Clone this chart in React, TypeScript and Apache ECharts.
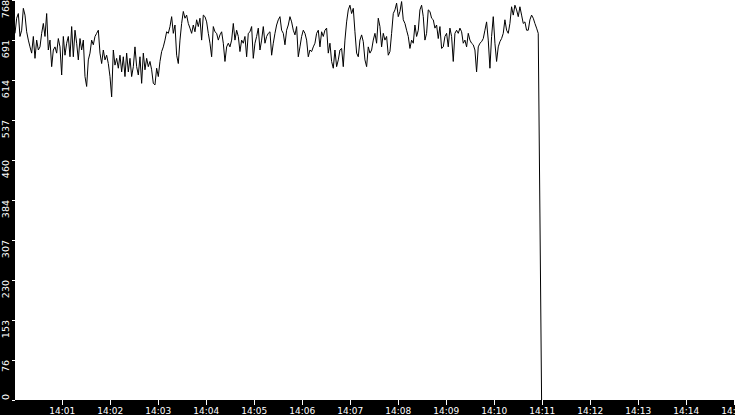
import React, { useEffect, useRef } from 'react';
import * as echarts from 'echarts';

// one reading every ~2.08 s, starting at 14:00:01
const startTime = new Date(2024, 0, 1, 14, 0, 1).getTime();
const stepMs = 2083;

const values = [
  704, 733, 742, 698, 710, 752, 739, 707, 691, 678,
  666, 698, 656, 691, 672, 678, 704, 723, 698, 742,
  672, 691, 640, 672, 678, 666, 694, 678, 624, 698,
  662, 685, 698, 659, 717, 659, 710, 685, 653, 694,
  672, 691, 621, 602, 653, 666, 691, 682, 698, 704,
  710, 666, 646, 672, 653, 662, 646, 621, 582, 672,
  643, 656, 637, 662, 630, 659, 621, 666, 630, 656,
  621, 640, 678, 640, 624, 659, 608, 666, 634, 656,
  640, 650, 634, 608, 605, 637, 621, 650, 669, 678,
  691, 707, 704, 717, 736, 704, 720, 662, 646, 691,
  723, 746, 733, 739, 723, 714, 704, 720, 707, 730, 717,
  733, 691, 739, 736, 726, 704, 685, 659, 717, 707,
  704, 691, 701, 707, 685, 650, 678, 685, 678, 691,
  723, 691, 710, 698, 669, 691, 685, 698, 659, 704,
  707, 717, 656, 685, 698, 714, 672, 691, 717, 685,
  698, 704, 707, 662, 685, 704, 720, 730, 736, 710,
  704, 682, 710, 720, 736, 726, 710, 701, 717, 659,
  678, 698, 710, 704, 691, 659, 672, 669, 678, 685,
  704, 710, 678, 707, 698, 710, 714, 666, 685, 650,
  637, 672, 640, 653, 672, 675, 640, 691, 726, 749,
  758, 742, 752, 707, 666, 659, 691, 701, 688, 653,
  640, 678, 666,
  672, 691, 704, 685, 733, 717, 678, 704, 691, 698,
  662, 669, 704, 742, 749, 762, 736, 746, 765, 730,
  723, 710, 698, 675, 691, 685, 720, 698, 710, 749,
  758, 736, 691, 704, 749, 746, 733, 730, 714, 720,
  694, 717, 675, 678, 698, 704, 678, 714, 698, 650,
  704, 710, 704, 714, 707, 685, 691, 678, 704, 691,
  685, 682, 672, 630, 678, 685, 688, 694, 710, 726,
  691, 637, 698, 736, 685, 650, 678, 688, 694, 704,
  730, 710, 704, 723, 755, 739, 758, 749, 736, 755,
  739, 723, 726, 710, 710, 730, 739, 733, 723, 714,
  704, 359, 0,
];

const yMax = 768;
const yInterval = 76.8;
const xMin = startTime;
const xMax = new Date(2024, 0, 1, 14, 15, 1).getTime();

export default function App() {
  const chartRef = useRef<HTMLDivElement>(null);

  useEffect(() => {
    if (!chartRef.current) return;
    document.body.style.margin = '0';
    const chart = echarts.init(chartRef.current, undefined, { renderer: 'svg' });

    const data = values.map((v, i) => [startTime + i * stepMs, v]);

    chart.setOption({
      animation: false,
      backgroundColor: '#000',
      grid: {
        show: true,
        backgroundColor: '#fff',
        borderWidth: 0,
        left: 15,
        right: 0,
        top: 0,
        bottom: 15,
        containLabel: false,
        outerBoundsMode: 'none',
      },
      xAxis: {
        type: 'time',
        min: xMin,
        max: xMax,
        minInterval: 60000,
        maxInterval: 60000,
        axisLine: { show: false },
        axisTick: { show: true, length: 5, lineStyle: { color: '#fff', width: 1 } },
        splitLine: { show: false },
        axisLabel: {
          formatter: '{HH}:{mm}',
          color: '#fff',
          fontFamily: 'DejaVu Sans',
          fontSize: 9,
          margin: 6,
          hideOverlap: false,
        },
      },
      yAxis: {
        type: 'value',
        min: 0,
        max: yMax,
        interval: yInterval,
        axisLine: { show: false },
        axisTick: { show: true, length: 3, lineStyle: { color: '#fff', width: 1 } },
        splitLine: { show: false },
        axisLabel: {
          rotate: 90,
          align: 'right',
          verticalAlign: 'middle',
          alignMinLabel: 'left',
          margin: 10,
          color: '#fff',
          fontFamily: 'DejaVu Sans',
          fontSize: 9.5,
          formatter: (v: number) => String(Math.floor(v + 1e-6)),
        },
      },
      series: [
        {
          type: 'line',
          data,
          showSymbol: false,
          symbol: 'none',
          lineStyle: { color: '#000', width: 1 },
          itemStyle: { color: '#000' },
        },
      ],
    });

    return () => {
      chart.dispose();
    };
  }, []);

  return <div ref={chartRef} style={{ width: 735, height: 415 }} />;
}
